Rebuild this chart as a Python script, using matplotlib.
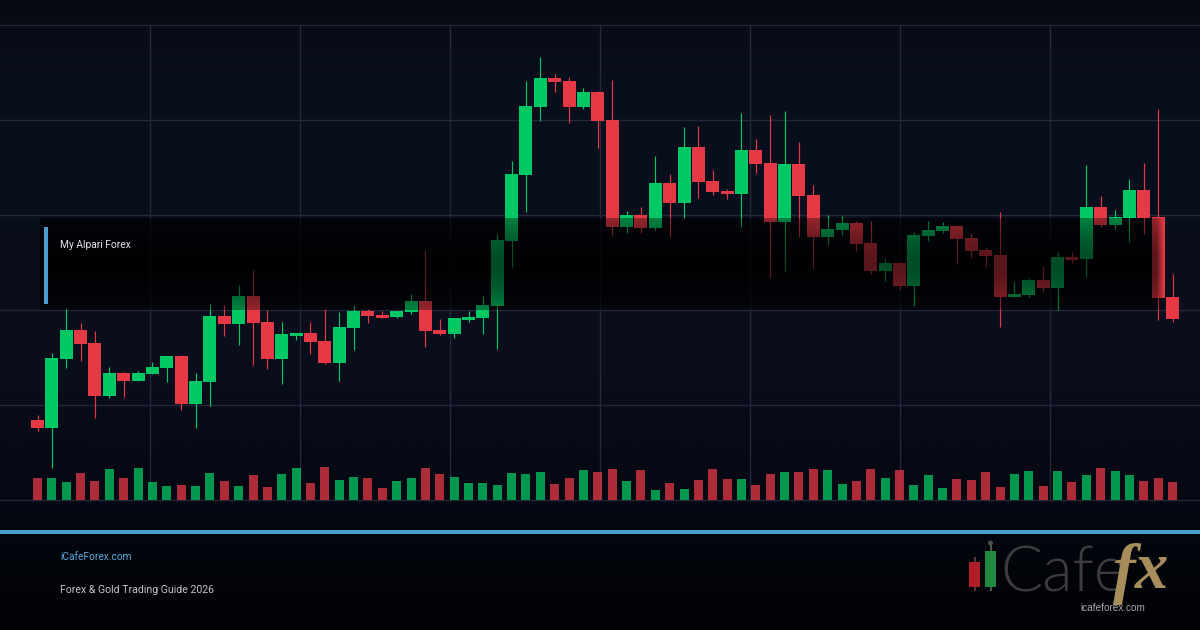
import numpy as np
import matplotlib
matplotlib.use("Agg")
import matplotlib.pyplot as plt
from matplotlib.patches import Rectangle, Circle
from matplotlib.colors import LinearSegmentedColormap

# OHLC, price units = px above the volume baseline
opens = [80, 72, 141, 170, 157, 104, 127, 119, 126, 132, 144, 96, 118, 184, 176, 204, 178, 141, 164, 167, 159, 137, 172, 189, 185, 183,
         188, 199, 170, 166, 180, 182, 194, 259, 325, 393, 422, 419, 393, 408, 380, 273, 285, 272, 317, 297, 353, 319, 309, 306,
         350, 337, 278, 336, 305, 263, 270, 277, 257, 229, 237, 214, 264, 269, 274, 262, 250, 245, 203, 205, 220, 212, 243, 241,
         293, 275, 282, 310, 283, 203]
closes = [72, 142, 170, 156, 104, 127, 119, 127, 133, 144, 96, 119, 184, 176, 204, 177, 141, 166, 167, 158, 137, 173, 189, 184, 182, 189,
          199, 169, 166, 182, 183, 195, 260, 326, 394, 422, 418, 393, 408, 379, 273, 285, 272, 317, 297, 353, 318, 308, 306, 350,
          336, 278, 336, 304, 263, 271, 277, 256, 229, 237, 214, 265, 270, 274, 261, 249, 244, 203, 206, 220, 212, 243, 240, 293,
          275, 283, 310, 282, 202, 181]
highs = [85, 147, 192, 177, 169, 133, 128, 129, 138, 144, 145, 127, 196, 195, 215, 230, 190, 178, 167, 178, 191, 188, 195, 191, 189, 189,
         206, 250, 181, 182, 189, 204, 266, 339, 419, 443, 426, 423, 412, 409, 420, 289, 293, 344, 326, 373, 374, 330, 311, 387,
         361, 385, 389, 358, 315, 285, 284, 279, 279, 242, 239, 268, 279, 278, 275, 267, 253, 288, 219, 222, 234, 248, 248, 335,
         304, 290, 321, 337, 391, 226]
lows = [69, 32, 132, 139, 82, 102, 103, 119, 126, 118, 90, 72, 94, 164, 155, 135, 131, 116, 160, 146, 136, 119, 150, 177, 182, 182,
        186, 153, 165, 162, 178, 166, 151, 233, 288, 379, 408, 377, 391, 352, 265, 267, 267, 270, 263, 282, 302, 305, 301, 273,
        327, 222, 229, 263, 231, 255, 265, 249, 226, 219, 210, 194, 259, 267, 236, 242, 233, 173, 203, 203, 209, 190, 237, 223,
        273, 271, 258, 266, 180, 178]
volumes = [22, 22, 18, 27, 19, 31, 22, 32, 18, 14, 15, 14, 27, 19, 14, 25, 13, 26, 32, 17, 33, 20, 23, 22, 12, 19,
           22, 32, 26, 23, 17, 17, 15, 27, 26, 28, 16, 22, 30, 28, 31, 19, 30, 10, 17, 11, 20, 31, 21, 21,
           15, 26, 28, 28, 31, 30, 16, 19, 31, 22, 30, 15, 25, 12, 21, 20, 28, 13, 26, 29, 14, 29, 18, 25,
           32, 29, 25, 19, 22, 18]

grid_x = [150, 300, 450, 600, 750, 900, 1050]
grid_y = [0, 95, 190, 285, 380, 475]

GREEN = "#00c864"
RED = "#e63946"
BLUE = "#4a9fd0"

W, H = 1200, 630
BASE = 500  # pixel row of the zero line


def py(v):
    return BASE - v


def band_layer(alpha_col):
    # black band that fades out at its right end
    arr = np.zeros((64, 1125, 4))
    arr[:, :, 3] = alpha_col[:, None] * np.clip((1165 - np.linspace(40, 1165, 1125)) / 8, 0, 1)[None, :]
    return arr


plt.rcParams["font.family"] = ["Roboto", "DejaVu Sans"]

fig = plt.figure(figsize=(W / 100, H / 100), dpi=100)
ax = fig.add_axes([0, 0, 1, 1])
ax.axis("off")

# background
bg = LinearSegmentedColormap.from_list("bg", [(0, "#05080f"), (0.04, "#080c17"), (0.15, "#0a0f1e"),
                                              (0.6, "#090d1c"), (0.8, "#050812"), (1, "#010205")])
ax.imshow(np.linspace(0, 1, 256).reshape(-1, 1), cmap=bg, aspect="auto", extent=[0, W, H, 0], zorder=0)

# grid
for x in grid_x:
    ax.plot([x, x], [25, BASE], color="#232939", lw=1, zorder=1)
for v in grid_y:
    ax.plot([0, W], [py(v), py(v)], color="#232939", lw=1, zorder=1)

# dark label band, one layer under the candles and one over them
ramp = np.sin(np.linspace(0, np.pi, 64))
ax.imshow(band_layer(0.35 + 0.3 * ramp), aspect="auto", extent=[40, 1165, 310, 218], zorder=1.5)
ax.imshow(band_layer(0.36 + 0.26 * ramp), aspect="auto", extent=[40, 1165, 310, 218], zorder=5)

# candles
xs = 37.5 + np.arange(len(opens)) * (1172.5 - 37.5) / (len(opens) - 1)
for x, o, c, h, l, v in zip(xs, opens, closes, highs, lows, volumes):
    col = GREEN if c >= o else RED
    ax.plot([x, x], [py(h), py(l)], color=col, lw=0.85, solid_capstyle="butt", zorder=3)
    ax.add_patch(Rectangle((x - 6.5, py(max(o, c))), 13, abs(c - o), fc=col, ec="none", zorder=4))
    ax.add_patch(Rectangle((x - 4.5, py(v)), 9, v, fc=col, ec="none", alpha=0.75, zorder=2))

ax.add_patch(Rectangle((44, 227), 4, 77, fc=BLUE, ec="none", zorder=6))
ax.text(60, 245.5, "My Alpari Forex", color="#e4e6ea", fontsize=7.4, va="center", zorder=6)

# footer
ax.add_patch(Rectangle((0, 530), W, 4, fc=BLUE, ec="none", zorder=6))
ax.text(60, 556.5, "iCafeForex.com", color="#5aa9dc", fontsize=7.3, va="center", zorder=6)
ax.text(60, 590, "Forex & Gold Trading Guide 2026", color="#c4c6cc", fontsize=7.6, va="center", zorder=6)

# logo
ax.plot([974.5, 974.5], [558, 590], color="#5a3338", lw=1.5, zorder=6)
ax.add_patch(Rectangle((969, 562), 11, 25, fc="#b01f28", ec="none", zorder=7))
ax.plot([990.5, 990.5], [546, 590], color="#46584c", lw=1.5, zorder=6)
ax.add_patch(Circle((990.5, 543), 2.5, fc="#46504a", ec="none", zorder=6))
ax.add_patch(Rectangle((985, 551), 11, 36, fc="#218a41", ec="none", zorder=7))
ax.text(1000, 592, "Cafe", color="#3c3c40", fontsize=45, family=["Lato"], fontweight=300, va="baseline", zorder=6)
ax.text(1124, 574, "f", color="#a68d5b", fontsize=49, family=["Liberation Serif"], style="italic", fontweight="bold",
        ha="center", va="center", zorder=7)
ax.text(1152, 572, "x", color="#a68d5b", fontsize=48, family=["Liberation Serif"], style="italic", fontweight="bold",
        ha="center", va="center", zorder=7)
ax.text(1080, 608, "icafeforex.com", color="#a8a8a8", fontsize=7.2, family=["Liberation Sans"], va="center", zorder=8)

ax.set_xlim(0, W)
ax.set_ylim(H, 0)

fig.savefig("out.png", dpi=100)
